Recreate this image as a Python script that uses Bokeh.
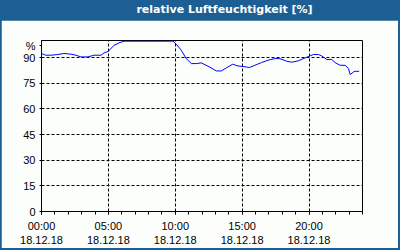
from bokeh.plotting import figure
from bokeh.models import FixedTicker, Range1d, Div
from bokeh.layouts import column
from bokeh.embed import file_html
from bokeh.resources import INLINE

# time in hours since 18.12.18 00:00, relative humidity in %
hours = [0, 0.32, 0.70, 1.22, 1.67, 2.2, 2.57, 2.95, 3.47, 3.92, 4.45, 4.67, 5.0,
         5.42, 5.80, 6.17, 9.83, 10.08, 10.45, 10.82, 11.2, 11.57, 11.95, 12.57,
         13.07, 13.45, 13.82, 14.28, 14.7, 15.33, 15.55, 15.95, 16.45, 16.95,
         17.45, 17.82, 18.33, 18.7, 19.2, 19.7, 20.0, 20.33, 20.7, 20.95, 21.33,
         21.7, 21.95, 22.33, 22.7, 22.95, 23.08, 23.33, 23.45, 23.75]
humidity = [92.4, 91.4, 91.4, 91.8, 92.4, 92.0, 91.4, 90.4, 90.4, 91.4, 91.4, 92.7, 93.7,
            97.2, 98.6, 99.6, 99.6, 97.8, 94.3, 89.4, 86.5, 86.5, 86.9, 84.5,
            82.2, 82.2, 84.0, 86.1, 85.1, 84.5, 84.2, 85.5, 87.1, 88.5,
            89.4, 89.4, 87.9, 87.3, 88.1, 89.8, 90.8, 91.8, 91.8, 91.0, 88.9,
            88.9, 87.1, 85.5, 85.5, 83.6, 80.1, 81.6, 82.0, 82.0]

x_ticks = [0, 5, 10, 15, 20]
x_labels = ["00:00\n18.12.18", "05:00\n18.12.18", "10:00\n18.12.18",
            "15:00\n18.12.18", "20:00\n18.12.18"]
y_ticks = [0, 15, 30, 45, 60, 75, 90]
title_text = "relative Luftfeuchtigkeit [%]"

BLUE = "#1d5f94"
BG = "#fcfefc"
FONT = "Liberation Sans"

p = figure(width=397, height=228, output_backend="svg", toolbar_location=None,
           x_range=Range1d(0, 24), y_range=Range1d(0, 100),
           min_border_left=40, min_border_right=36, min_border_top=20,
           min_border_bottom=37, margin=0)
p.background_fill_color = BG
p.border_fill_color = BG
p.outline_line_color = "black"
p.outline_line_width = 1

p.line(hours, humidity, line_color="#0000ff", line_width=1)

p.xaxis.ticker = FixedTicker(ticks=x_ticks, minor_ticks=list(range(25)))
p.xaxis.major_label_overrides = {t: l for t, l in zip(x_ticks, x_labels)}
p.yaxis.ticker = FixedTicker(ticks=y_ticks + [97])
p.yaxis.major_label_overrides = {97: "%"}

for ax in (p.xaxis, p.yaxis):
    ax.axis_line_color = "black"
    ax.major_tick_line_color = "black"
    ax.minor_tick_line_color = "black"
    ax.major_label_text_font = FONT
    ax.major_label_text_font_size = "11px"
    ax.major_label_text_color = "black"
    ax.major_tick_in = 0
    ax.minor_tick_in = 0

p.xaxis.major_tick_out = 3
p.xaxis.minor_tick_out = 3
p.xaxis.major_label_standoff = 5
p.yaxis.major_tick_out = 2
p.yaxis.minor_tick_line_color = None
p.yaxis.major_label_standoff = 4

p.xgrid.ticker = FixedTicker(ticks=[5, 10, 15, 20])
p.ygrid.ticker = FixedTicker(ticks=[15, 30, 45, 60, 75, 90])
for g in (p.xgrid, p.ygrid):
    g.grid_line_color = "black"
    g.grid_line_dash = "3 2"
    g.grid_line_width = 1

title = Div(text=title_text, width=397, height=20, margin=0,
            styles={"background-color": BLUE, "color": "white",
                    "font-family": "DejaVu Sans", "font-weight": "bold",
                    "font-size": "11px", "text-align": "center",
                    "line-height": "20px", "padding-left": "50px",
                    "box-sizing": "border-box", "width": "397px"})

layout = column(title, p, spacing=0, margin=0,
                styles={"background-color": BLUE, "padding": "0px 2px 2px 1px"})

open("out.html", "w").write(file_html(layout, INLINE))
